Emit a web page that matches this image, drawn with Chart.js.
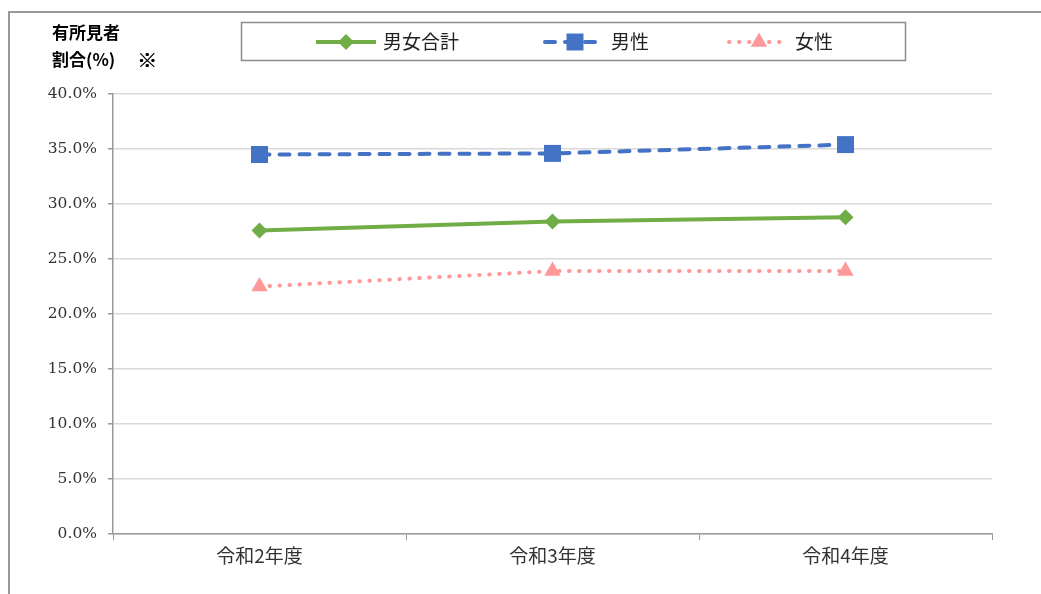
<!DOCTYPE html>
<html>
<head>
<meta charset="utf-8">
<script src="https://cdn.jsdelivr.net/npm/chart.js@4/dist/chart.umd.min.js"></script>
<style>
  html, body { margin: 0; padding: 0; background: #fff; }
  #wrap { width: 1041px; height: 594px; position: relative; }
</style>
</head>
<body>
<div id="wrap"><canvas id="chart" width="1041" height="594"></canvas></div>
<script>
// Data
const categories = ['令和2年度', '令和3年度', '令和4年度'];
const totalValues = [27.6, 28.4, 28.8];   // 男女合計
const maleValues = [34.5, 34.6, 35.4];    // 男性
const femaleValues = [22.5, 23.9, 23.9];  // 女性
const seriesNames = ['男女合計', '男性', '女性'];
const yTitleLines = ['有所見者', '割合(%)', '※'];

const CJK = '"Noto Sans CJK JP", "Noto Sans", sans-serif';

// Frame, axis title and boxed legend
const decorPlugin = {
    id: 'decor',
    afterDraw(chart) {
        const ctx = chart.ctx;
        ctx.save();

        // outer frame (runs off the right and bottom edges)
        ctx.strokeStyle = '#999999';
        ctx.lineWidth = 2;
        ctx.beginPath();
        ctx.moveTo(9, 594);
        ctx.lineTo(9, 12);
        ctx.lineTo(1041, 12);
        ctx.stroke();

        // y axis title
        ctx.fillStyle = '#000';
        ctx.font = 'bold 17px ' + CJK;
        ctx.textBaseline = 'middle';
        ctx.textAlign = 'left';
        ctx.fillText(yTitleLines[0], 52, 33);
        ctx.fillText(yTitleLines[1], 52, 60);
        ctx.font = 'bold 20px ' + CJK;
        ctx.fillText(yTitleLines[2], 137, 60);
        ctx.fillText(yTitleLines[2], 137.6, 60);

        // legend box
        ctx.strokeStyle = '#8c8c8c';
        ctx.lineWidth = 1.5;
        ctx.strokeRect(241.5, 22.5, 664, 38);

        const items = [
            { x: 316, text: 383 },
            { x: 545, text: 611 },
            { x: 729, text: 795 }
        ];
        chart.data.datasets.forEach((ds, i) => {
            const it = items[i];
            const y = 42;
            ctx.strokeStyle = ds.borderColor;
            ctx.lineWidth = ds.borderWidth;
            ctx.lineCap = ds.borderCapStyle || 'butt';
            ctx.setLineDash(ds.borderDash || []);
            ctx.beginPath();
            ctx.moveTo(it.x, y);
            ctx.lineTo(it.x + 60, y);
            ctx.stroke();
            ctx.setLineDash([]);
            ctx.fillStyle = ds.pointBackgroundColor;
            ctx.strokeStyle = ds.pointBorderColor;
            Chart.helpers.drawPoint(ctx, {
                pointStyle: ds.pointStyle,
                radius: ds.pointRadius,
                borderWidth: 0,
                rotation: 0
            }, it.x + 30, y);
            ctx.fillStyle = '#222';
            ctx.font = '19px ' + CJK;
            ctx.textAlign = 'left';
            ctx.fillText(ds.label, it.text, y);
        });
        ctx.restore();
    }
};

const ctx = document.getElementById('chart').getContext('2d');
new Chart(ctx, {
    type: 'line',
    data: {
        labels: categories,
        datasets: [
            {
                label: seriesNames[0],
                data: totalValues,
                borderColor: '#70ad47',
                backgroundColor: '#70ad47',
                borderWidth: 4,
                pointStyle: 'rectRot',
                pointRadius: 8,
                pointBackgroundColor: '#70ad47',
                pointBorderColor: '#70ad47',
                pointBorderWidth: 0,
                tension: 0,
                fill: false
            },
            {
                label: seriesNames[1],
                data: maleValues,
                borderColor: '#4472c4',
                backgroundColor: '#4472c4',
                borderWidth: 4,
                borderDash: [10, 10],
                borderCapStyle: 'round',
                pointStyle: 'rect',
                pointRadius: 12,
                pointBackgroundColor: '#4472c4',
                pointBorderColor: '#4472c4',
                pointBorderWidth: 0,
                tension: 0,
                fill: false
            },
            {
                label: seriesNames[2],
                data: femaleValues,
                borderColor: '#ff9999',
                backgroundColor: '#ff9999',
                borderWidth: 4,
                borderDash: [0.5, 9.5],
                borderCapStyle: 'round',
                pointStyle: 'triangle',
                pointRadius: 9.5,
                pointBackgroundColor: '#ff9999',
                pointBorderColor: '#ff9999',
                pointBorderWidth: 0,
                tension: 0,
                fill: false
            }
        ]
    },
    options: {
        responsive: false,
        animation: false,
        layout: {
            padding: { left: 0, right: 49, top: 94, bottom: 0 }
        },
        plugins: {
            legend: { display: false },
            tooltip: { enabled: false }
        },
        scales: {
            x: {
                offset: true,
                grid: {
                    display: true,
                    offset: true,
                    drawOnChartArea: false,
                    drawTicks: true,
                    tickLength: 6,
                    color: '#999999'
                },
                border: { color: '#999999', width: 1.5 },
                ticks: {
                    color: '#333',
                    font: { family: CJK, size: 19 },
                    padding: 4
                },
                afterFit(scale) { scale.height = 60; }
            },
            y: {
                min: 0,
                max: 40,
                ticks: {
                    stepSize: 5,
                    color: '#333',
                    font: { family: '"DejaVu Serif", serif', size: 15.5 },
                    padding: 11,
                    callback: function(value) {
                        return value.toFixed(1) + '%';
                    }
                },
                grid: {
                    color: '#d9d9d9',
                    lineWidth: 1.5,
                    tickLength: 5,
                    tickColor: '#999999'
                },
                border: { color: '#999999', width: 1.5 },
                afterFit(scale) { scale.width = 113; }
            }
        }
    },
    plugins: [decorPlugin]
});
</script>
</body>
</html>
